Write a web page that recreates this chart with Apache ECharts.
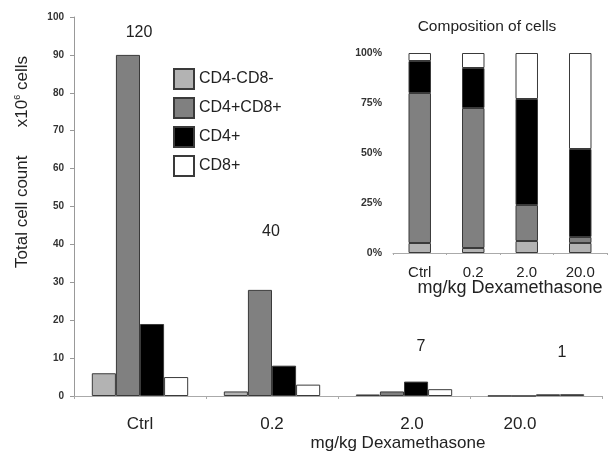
<!DOCTYPE html>
<html>
<head>
<meta charset="utf-8">
<script src="https://cdn.jsdelivr.net/npm/echarts@6/dist/echarts.min.js"></script>
<style>html,body{margin:0;padding:0;background:#fff;}#c{width:612px;height:454px;}</style>
</head>
<body>
<div id="c"></div>
<script>
// ---- data ----
var categories = ['Ctrl', '0.2', '2.0', '20.0'];
var seriesNames = ['CD4-CD8-', 'CD4+CD8+', 'CD4+', 'CD8+'];
// total counts (x10^6 cells)
var dn  = [6, 1.2, 0.4, 0.05];
var dp  = [90, 28, 1.2, 0.03];
var cd4 = [19, 8, 3.8, 0.44];
var cd8 = [5, 3, 1.8, 0.48];
var totals = ['120', '40', '7', '1'];
// composition (%)
var pctDn  = [5, 2.5, 6, 5];
var pctDp  = [75, 70, 18, 3];
var pctCd4 = [16, 20, 53, 44];
var pctCd8 = [4, 7.5, 23, 48];
var yTicks = [0, 10, 20, 30, 40, 50, 60, 70, 80, 90, 100];
var pctTicks = [0, 25, 50, 75, 100];

var colors = ['#b3b3b3', '#808080', '#000000', '#ffffff'];
var font = 'Liberation Sans, Arial, sans-serif';
var border = '#3a3a3a';

var chart = echarts.init(document.getElementById('c'), null, {renderer: 'canvas'});

var mainData = [dn, dp, cd4, cd8];
var pctData = [pctDn, pctDp, pctCd4, pctCd8];

var series = [];
seriesNames.forEach(function (n, i) {
  series.push({
    name: n, type: 'bar', xAxisIndex: 0, yAxisIndex: 0,
    data: mainData[i], barGap: '0%', barCategoryGap: '27%',
    itemStyle: {color: colors[i], borderColor: border, borderWidth: 1},
    emphasis: {disabled: true}
  });
});
seriesNames.forEach(function (n, i) {
  series.push({
    name: n, type: 'bar', xAxisIndex: 1, yAxisIndex: 1, stack: 'pct',
    data: pctData[i], barWidth: '42%',
    itemStyle: {color: colors[i], borderColor: border, borderWidth: 1},
    emphasis: {disabled: true}
  });
});

// layout of the annotation texts (pixels)
var totalPos = [[139, 33], [271, 232], [421, 347], [562, 353]];
var graphics = totals.map(function (t, i) {
  return {type: 'text', x: totalPos[i][0], y: totalPos[i][1], z: 100,
    style: {text: t, font: '16px ' + font, fill: '#222', align: 'center', verticalAlign: 'middle'}};
});
graphics.push({type: 'text', x: 398, y: 443,
  style: {text: 'mg/kg Dexamethasone', font: '17px ' + font, fill: '#222', align: 'center', verticalAlign: 'middle'}});
graphics.push({type: 'text', x: 510, y: 288,
  style: {text: 'mg/kg Dexamethasone', font: '18px ' + font, fill: '#222', align: 'center', verticalAlign: 'middle'}});
graphics.push({type: 'text', x: 487, y: 27,
  style: {text: 'Composition of cells', font: '15.5px ' + font, fill: '#222', align: 'center', verticalAlign: 'middle'}});
graphics.push({type: 'text', x: 22, y: 162, rotation: Math.PI / 2,
  style: {text: 'Total cell count      x10{s|6} cells', font: '17px ' + font, fill: '#222', align: 'center', verticalAlign: 'middle',
    rich: {s: {fontSize: 9, verticalAlign: 'top', padding: [0, 0, 8, 0], fontFamily: font}}}});

var option = {
  animation: false,
  backgroundColor: '#fff',
  legend: {
    data: seriesNames, orient: 'vertical', left: 173, top: 68, padding: 0,
    itemWidth: 20, itemHeight: 20, itemGap: 7,
    textStyle: {fontSize: 16, fontFamily: font, color: '#222', lineHeight: 20},
    selectedMode: false, icon: 'rect'
  },
  grid: [
    {left: 74, right: 10, top: 17, bottom: 58, containLabel: false},
    {left: 393, right: 5, top: 53, bottom: 201, containLabel: false}
  ],
  xAxis: [
    {type: 'category', gridIndex: 0, data: categories.map(function (c, i) {
        var pads = [[0,0,0,0],[0,0,0,0],[0,0,0,16],[0,32,0,0]];
        return {value: c, textStyle: {padding: pads[i]}};
      }),
      axisLine: {lineStyle: {color: '#aaa', width: 1}},
      axisTick: {show: true, alignWithLabel: false, length: 3, lineStyle: {color: '#aaa'}},
      axisLabel: {fontSize: 17, fontFamily: font, color: '#222', margin: 20}
    },
    {type: 'category', gridIndex: 1, data: categories,
      axisLine: {lineStyle: {color: '#aaa', width: 1}},
      axisTick: {show: true, alignWithLabel: false, length: 2, lineStyle: {color: '#aaa'}},
      axisLabel: {fontSize: 15, fontFamily: font, color: '#222', margin: 12}
    }
  ],
  yAxis: [
    {type: 'value', gridIndex: 0, min: yTicks[0], max: yTicks[yTicks.length - 1], interval: 10,
      splitLine: {show: false},
      axisLine: {show: true, lineStyle: {color: '#999', width: 1}},
      axisTick: {show: true, length: 4, lineStyle: {color: '#999'}},
      axisLabel: {fontSize: 10, fontWeight: 'bold', fontFamily: font, color: '#333', margin: 10}
    },
    {type: 'value', gridIndex: 1, min: pctTicks[0], max: pctTicks[pctTicks.length - 1], interval: 25,
      splitLine: {show: false},
      axisLine: {show: false},
      axisTick: {show: false},
      axisLabel: {fontSize: 10.5, fontWeight: 'bold', fontFamily: font, color: '#333', margin: 11,
        formatter: function (v) { return v + '%'; }}
    }
  ],
  series: series,
  graphic: graphics
};
chart.setOption(option);
</script>
</body>
</html>
